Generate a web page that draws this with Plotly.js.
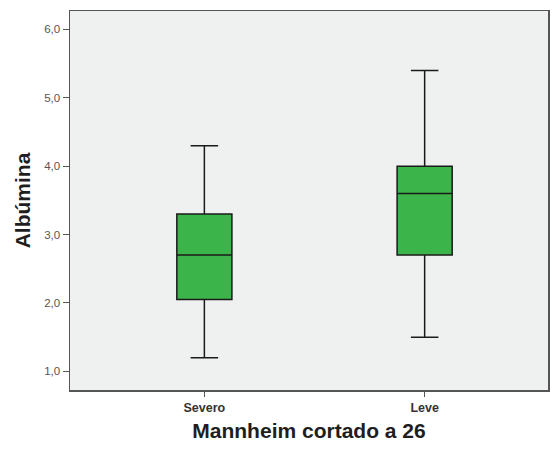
<!DOCTYPE html>
<html><head><meta charset="utf-8">
<script src="https://cdn.plot.ly/plotly-3.0.1.min.js"></script>
<style>html,body{margin:0;padding:0;background:#fff}#chart{width:554px;height:449px}</style>
</head><body><div id="chart"></div>
<script>
const categories = ["Severo", "Leve"];
const lowerWhisker = [1.2, 1.5];
const q1 = [2.05, 2.7];
const median = [2.7, 3.6];
const q3 = [3.3, 4.0];
const upperWhisker = [4.3, 5.4];
const yTickVals = [1, 2, 3, 4, 5, 6];
const yTickText = ["1,0", "2,0", "3,0", "4,0", "5,0", "6,0"];

const trace = {
  type: "box",
  x: categories,
  q1: q1, median: median, q3: q3,
  lowerfence: lowerWhisker, upperfence: upperWhisker,
  fillcolor: "#3bb54a",
  line: {color: "#1a1a1a", width: 1.5},
  whiskerwidth: 0.5,
  width: 0.25,
  boxpoints: false,
  hoverinfo: "skip"
};

const layout = {
  width: 554, height: 449,
  margin: {l: 70, r: 6, t: 11, b: 59},
  paper_bgcolor: "#ffffff",
  plot_bgcolor: "#eff0f0",
  showlegend: false,
  font: {family: "Liberation Sans, Arial, sans-serif", color: "#555"},
  xaxis: {
    type: "category",
    range: [-0.61, 1.56],
    showline: true, linecolor: "#555", linewidth: 1.5, mirror: true,
    ticks: "outside", ticklen: 5, tickcolor: "#555",
    showgrid: false, zeroline: false,
    tickfont: {size: 12.5, color: "#333", family: "Liberation Sans, Arial, sans-serif", weight: "bold"},
    title: {text: "<b>Mannheim cortado a 26</b>", font: {size: 21, color: "#1e1e1e"}, standoff: 10}
  },
  yaxis: {
    range: [0.727, 6.27],
    tickvals: yTickVals, ticktext: yTickText,
    showline: true, linecolor: "#555", linewidth: 1.5, mirror: true,
    ticks: "outside", ticklen: 6, tickcolor: "#555",
    showgrid: false, zeroline: false,
    tickfont: {size: 11.5, color: "#555"},
    title: {text: "<b>Albúmina</b>", font: {size: 21, color: "#1e1e1e"}, standoff: 8}
  }
};
Plotly.newPlot("chart", [trace], layout, {displayModeBar: false, staticPlot: true});
</script></body></html>
